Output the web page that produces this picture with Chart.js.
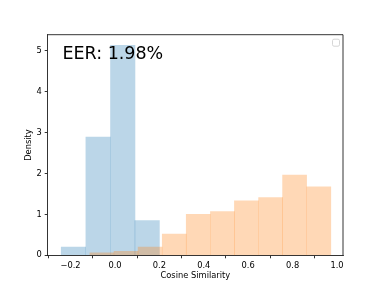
<!DOCTYPE html>
<html>
<head>
<meta charset="utf-8">
<script src="https://cdn.jsdelivr.net/npm/chart.js@4/dist/chart.umd.min.js"></script>
<style>
  html, body { margin:0; padding:0; background:#fff; }
  #wrap { width:382px; height:287px; position:relative; }
</style>
</head>
<body>
<div id="wrap"><canvas id="hist"></canvas></div>
<script>
/* histogram data: bin centres + densities */
const blueCenters = [-0.187, -0.076, 0.035, 0.145];
const blueDensity = [0.20, 2.89, 5.13, 0.85];
const orangeCenters = [-0.059, 0.050, 0.158, 0.267, 0.375, 0.484, 0.592, 0.701, 0.809, 0.918];
const orangeDensity = [0.06, 0.10, 0.20, 0.52, 1.00, 1.07, 1.33, 1.41, 1.96, 1.67];
const xTicks = [-0.2, 0.0, 0.2, 0.4, 0.6, 0.8, 1.0];
const yTicks = [0, 1, 2, 3, 4, 5];
const eerText = 'EER: 1.98%';
const xLabel = 'Cosine Similarity';
const yLabel = 'Density';

const FONT = 'DejaVu Sans';
const tickFont = { family: FONT, size: 8.3 };

function fmtTick(v){
  const s = Math.abs(v) < 1e-9 ? '0.0' : v.toFixed(1);
  return s.replace('-', '\u2212');
}

const pts = (xs, ys) => xs.map((x, i) => ({ x, y: ys[i] }));

/* frame (top/right spines), EER text, empty legend box */
const decor = {
  id: 'decor',
  afterDatasetsDraw(chart){
    const { ctx, chartArea: a } = chart;
    ctx.save();
    ctx.strokeStyle = '#000';
    ctx.lineWidth = 0.8;
    ctx.beginPath();
    ctx.moveTo(a.left, a.top); ctx.lineTo(a.right, a.top); ctx.lineTo(a.right, a.bottom);
    ctx.stroke();

    ctx.fillStyle = '#000';
    ctx.font = '17.5px "' + FONT + '"';
    ctx.textBaseline = 'alphabetic';
    ctx.textAlign = 'left';
    ctx.fillText(eerText, a.left + 0.05 * (a.right - a.left), a.top + 24.5);

    ctx.strokeStyle = '#d6d6d6';
    ctx.lineWidth = 1;
    ctx.beginPath();
    ctx.roundRect(a.right - 10.5, a.top + 4.5, 7, 7, 1.5);
    ctx.fillStyle = '#fff';
    ctx.fill();
    ctx.stroke();
    ctx.restore();
  }
};

const xCommon = {
  type: 'linear', min: -0.303, max: 1.027, offset: false
};

new Chart(document.getElementById('hist'), {
  type: 'bar',
  data: {
    datasets: [
      { label: 'impostor', data: pts(orangeCenters, orangeDensity), xAxisID: 'x2',
        backgroundColor: 'rgba(255,127,14,0.3)', borderWidth: 0,
        barPercentage: 1, categoryPercentage: 1, grouped: false },
      { label: 'genuine', data: pts(blueCenters, blueDensity), xAxisID: 'x',
        backgroundColor: 'rgba(31,119,180,0.3)', borderWidth: 0,
        barPercentage: 1, categoryPercentage: 1, grouped: false }
    ]
  },
  options: {
    responsive: true,
    maintainAspectRatio: false,
    animation: false,
    layout: { padding: { left: 0, right: 39, top: 34.7, bottom: 0 } },
    plugins: { legend: { display: false }, tooltip: { enabled: false } },
    scales: {
      x: {
        ...xCommon,
        position: 'bottom',
        afterFit: s => { s.height = 31.7; },
        afterBuildTicks: s => { s.ticks = xTicks.map(v => ({ value: v })); },
        grid: { display: true, drawOnChartArea: false, drawTicks: true, tickLength: 3, color: '#000', lineWidth: 0.8 },
        border: { display: true, color: '#000', width: 0.8 },
        ticks: { color: '#000', font: tickFont, padding: 3, maxRotation: 0, autoSkip: false, callback: v => fmtTick(v) },
        title: { display: true, text: xLabel, color: '#000', font: tickFont, padding: { top: 0, bottom: 6.5 } }
      },
      x2: { ...xCommon, display: false },
      y: {
        min: 0, max: 5.39,
        afterFit: s => { s.width = 47.7; },
        afterBuildTicks: s => { s.ticks = yTicks.map(v => ({ value: v })); },
        grid: { display: true, drawOnChartArea: false, drawTicks: true, tickLength: 3, color: '#000', lineWidth: 0.8 },
        border: { display: true, color: '#000', width: 0.8 },
        ticks: { color: '#000', font: tickFont, padding: 3, callback: v => String(v) },
        title: { display: true, text: yLabel, color: '#000', font: tickFont, padding: { top: 24.3, bottom: 0 } }
      }
    }
  },
  plugins: [decor]
});
</script>
</body>
</html>
